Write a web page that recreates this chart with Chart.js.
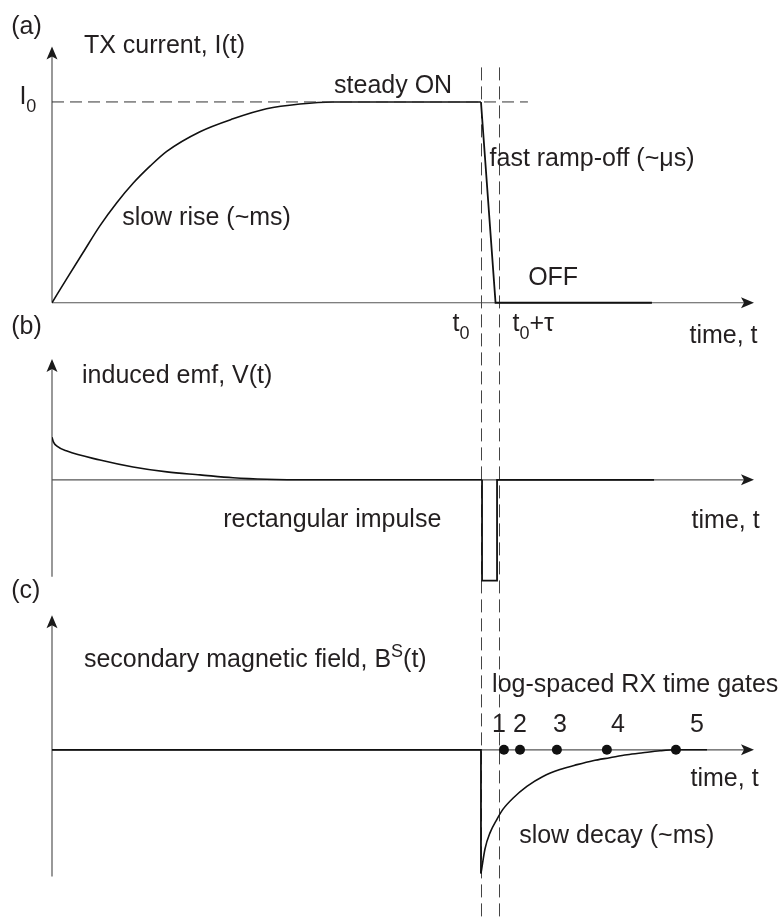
<!DOCTYPE html>
<html>
<head>
<meta charset="utf-8">
<script src="https://cdn.jsdelivr.net/npm/chart.js@4/dist/chart.umd.min.js"></script>
<style>
  html, body { margin: 0; padding: 0; background: #fff; }
  canvas { display: block; }
</style>
</head>
<body>
<canvas id="tem" width="783" height="919"></canvas>
<script>
// time axis in arbitrary units, switch-off at t0
var tMax = 32.73;
var t0 = 20;
var t0PlusTau = 20.84;

// (a) TX current
var riseTime = [0, 0.69, 1.45, 2.24, 3.02, 3.79, 4.57, 5.35, 6.9, 8.44, 10.0, 11.56, 13.1, 20];
var riseCurrent = [0, 0.12, 0.25, 0.384, 0.498, 0.596, 0.68, 0.754, 0.852, 0.916, 0.966, 0.99, 1.0, 1.0];
var rampTime = [20, 20.68, 27.97];
var rampCurrent = [1, 0, 0];
var levelTime = [0, 22.19];
var levelCurrent = [1, 1];

// (b) induced emf
var emfTime = [0, 0.07, 0.23, 0.70, 2.24, 3.78, 5.36, 6.90, 8.44, 10.0, 12.17, 20.05];
var emfValue = [0.422, 0.373, 0.333, 0.284, 0.196, 0.127, 0.078, 0.049, 0.020, 0.005, 0, 0];
var pulseTime = [20.05, 20.05, 20.75, 20.75, 28.07];
var pulseValue = [0, -1, -1, 0, 0];

// (c) secondary field
var fieldTime = [0, 20, 20];
var fieldValue = [0, 0, -1];
var decayTime = [20, 20.19, 20.42, 20.75, 21.03, 21.49, 22.14, 22.89, 23.68, 24.48, 25.22, 26.01, 26.81, 27.55, 28.35, 29.09, 30.54];
var decayValue = [-1, -0.8, -0.672, -0.56, -0.48, -0.392, -0.296, -0.216, -0.16, -0.12, -0.088, -0.064, -0.04, -0.024, -0.008, 0, 0];
var gateTime = [21.07, 21.82, 23.54, 25.87, 29.09];
var gateNames = ['1', '2', '3', '4', '5'];
var gateNameTime = [20.84, 21.82, 23.68, 26.39, 30.07];

// panel axes extents (in each panel's own units)
var panels = [
  { id: 'ya', top: 1.276, bottom: 0 },
  { id: 'yb', top: 1.196, bottom: -0.961 },
  { id: 'yc', top: 1.088, bottom: -1.024 }
];

// text: _x = subscript, ^x = superscript
var labels = [
  { s: '(a)', x: -1.9, y: 1.340, ax: 'ya' },
  { s: 'TX current, I(t)', x: 1.49, y: 1.246, ax: 'ya' },
  { s: 'I_0', x: -1.52, y: 0.990, ax: 'ya' },
  { s: 'steady ON', x: 13.15, y: 1.044, ax: 'ya' },
  { s: 'fast ramp-off (~\u03bcs)', x: 20.4, y: 0.680, ax: 'ya' },
  { s: 'slow rise (~ms)', x: 3.27, y: 0.389, ax: 'ya' },
  { s: 'OFF', x: 22.2, y: 0.0887, ax: 'ya' },
  { s: 't_0', x: 18.67, y: -0.143, ax: 'ya' },
  { s: 't_0+\u03c4', x: 21.47, y: -0.143, ax: 'ya' },
  { s: 'time, t', x: 29.72, y: -0.202, ax: 'ya' },
  { s: '(b)', x: -1.9, y: 1.441, ax: 'yb' },
  { s: 'induced emf, V(t)', x: 1.40, y: 0.961, ax: 'yb' },
  { s: 'rectangular impulse', x: 7.98, y: -0.471, ax: 'yb' },
  { s: 'time, t', x: 29.82, y: -0.480, ax: 'yb' },
  { s: '(c)', x: -1.9, y: 1.224, ax: 'yc' },
  { s: 'secondary magnetic field, B^S(t)', x: 1.49, y: 0.672, ax: 'yc' },
  { s: 'log-spaced RX time gates', x: 20.52, y: 0.464, ax: 'yc' },
  { s: 'time, t', x: 29.77, y: -0.296, ax: 'yc' },
  { s: 'slow decay (~ms)', x: 21.78, y: -0.752, ax: 'yc' }
];

var FONT = '"Liberation Sans", Arial, Helvetica, sans-serif';

function pts(xs, ys) {
  return xs.map(function(x, i) { return { x: x, y: ys[i] }; });
}

function parts(s) {
  var out = [];
  var re = /([_^])(.)/g, last = 0, m;
  while ((m = re.exec(s)) !== null) {
    if (m.index > last) out.push({ t: s.slice(last, m.index), k: 0 });
    out.push({ t: m[2], k: m[1] === '_' ? 1 : -1 });
    last = re.lastIndex;
  }
  if (last < s.length) out.push({ t: s.slice(last), k: 0 });
  return out;
}

function drawText(ctx, s, x, y, center) {
  var segs = parts(s);
  var w = 0;
  segs.forEach(function(p) {
    ctx.font = (p.k ? 18 : 25) + 'px ' + FONT;
    p.w = ctx.measureText(p.t).width;
    w += p.w;
  });
  var cx = center ? x - w / 2 : x;
  segs.forEach(function(p) {
    ctx.font = (p.k ? 18 : 25) + 'px ' + FONT;
    var dy = p.k === 1 ? 8 : (p.k === -1 ? -10 : 0);
    ctx.fillText(p.t, cx, y + dy);
    cx += p.w;
  });
}

function arrowHead(ctx, x, y, dir) {
  ctx.beginPath();
  if (dir === 'right') {
    ctx.moveTo(x, y);
    ctx.lineTo(x - 13, y - 5.5);
    ctx.lineTo(x - 10, y);
    ctx.lineTo(x - 13, y + 5.5);
  } else {
    ctx.moveTo(x, y);
    ctx.lineTo(x - 5.5, y + 13);
    ctx.lineTo(x, y + 10);
    ctx.lineTo(x + 5.5, y + 13);
  }
  ctx.closePath();
  ctx.fill();
}

var schematic = {
  id: 'schematic',
  beforeDatasetsDraw: function(chart) {
    var ctx = chart.ctx;
    var sx = chart.scales.x;
    var x0 = sx.getPixelForValue(0), x1 = sx.getPixelForValue(tMax);
    ctx.save();
    ctx.strokeStyle = '#555';
    ctx.fillStyle = '#1a1a1a';
    ctx.lineWidth = 1.2;
    panels.forEach(function(p) {
      var sy = chart.scales[p.id];
      var yz = sy.getPixelForValue(0);
      var yt = sy.getPixelForValue(p.top), yb = sy.getPixelForValue(p.bottom);
      ctx.beginPath();
      ctx.moveTo(x0, yb);
      ctx.lineTo(x0, yt + 8);
      ctx.moveTo(x0, yz);
      ctx.lineTo(x1 - 8, yz);
      ctx.stroke();
      arrowHead(ctx, x0, yt, 'up');
      arrowHead(ctx, x1, yz, 'right');
    });
    // dashed markers at t0 and t0 + tau, through all panels
    var top = chart.scales.ya.getPixelForValue(1.172);
    var bottom = chart.height;
    ctx.strokeStyle = '#444';
    ctx.lineWidth = 1;
    ctx.setLineDash([13, 6]);
    [t0, t0PlusTau].forEach(function(t) {
      var px = Math.round(sx.getPixelForValue(t)) + 0.5;
      ctx.beginPath();
      ctx.moveTo(px, top);
      ctx.lineTo(px, bottom);
      ctx.stroke();
    });
    ctx.restore();
  },
  afterDatasetsDraw: function(chart) {
    var ctx = chart.ctx;
    var sx = chart.scales.x;
    ctx.save();
    ctx.fillStyle = '#231f20';
    ctx.textBaseline = 'alphabetic';
    ctx.textAlign = 'left';
    labels.forEach(function(l) {
      drawText(ctx, l.s, sx.getPixelForValue(l.x), chart.scales[l.ax].getPixelForValue(l.y), false);
    });
    var yc = chart.scales.yc;
    gateNames.forEach(function(n, i) {
      drawText(ctx, n, sx.getPixelForValue(gateNameTime[i]), yc.getPixelForValue(0.144), true);
    });
    ctx.restore();
  }
};

var curve = { borderColor: '#111', borderWidth: 1.6, pointRadius: 0, fill: false, tension: 0 };
function ds(axis, xs, ys, extra) {
  return Object.assign({ yAxisID: axis, data: pts(xs, ys) }, curve, extra || {});
}

new Chart(document.getElementById('tem'), {
  type: 'line',
  data: {
    datasets: [
      ds('ya', levelTime, levelCurrent, { borderColor: '#333', borderWidth: 1, borderDash: [12, 6] }),
      ds('ya', riseTime, riseCurrent, { cubicInterpolationMode: 'monotone' }),
      ds('ya', rampTime, rampCurrent, { borderWidth: 1.8 }),
      ds('yb', emfTime, emfValue, { cubicInterpolationMode: 'monotone' }),
      ds('yb', pulseTime, pulseValue, { borderWidth: 1.8 }),
      ds('yc', fieldTime, fieldValue, { borderWidth: 1.8 }),
      ds('yc', decayTime, decayValue, { cubicInterpolationMode: 'monotone' }),
      ds('yc', gateTime, gateTime.map(function() { return 0; }), {
        showLine: false, pointRadius: 5, pointBackgroundColor: '#111', pointBorderColor: '#111', pointBorderWidth: 0
      })
    ]
  },
  options: {
    responsive: false,
    animation: false,
    events: [],
    layout: { padding: { left: 52, right: 29, top: 0, bottom: 0 } },
    plugins: { legend: { display: false }, tooltip: { enabled: false } },
    scales: {
      x: { type: 'linear', min: 0, max: tMax, display: false },
      ya: { type: 'linear', min: -0.1921, max: 1.4828, display: false, stack: 'panels', stackWeight: 340, weight: 3 },
      yb: { type: 'linear', min: -1.0294, max: 1.3725, display: false, stack: 'panels', stackWeight: 245, weight: 2 },
      yc: { type: 'linear', min: -1.328, max: 1.344, display: false, stack: 'panels', stackWeight: 334, weight: 1 }
    }
  },
  plugins: [schematic]
});
</script>
</body>
</html>
